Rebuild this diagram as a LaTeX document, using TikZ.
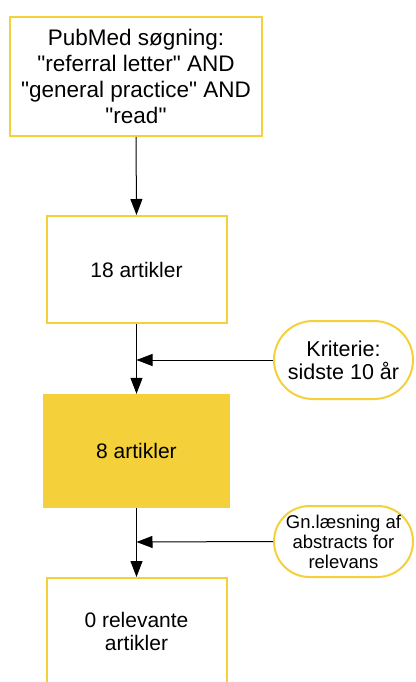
\documentclass[tikz,border=0pt]{standalone}
\usepackage{fontspec}
\setmainfont[Ligatures=TeXOff]{Liberation Sans}
\usetikzlibrary{arrows.meta}
\definecolor{ylw}{HTML}{F4D13A}
\begin{document}
\begin{tikzpicture}[x=1pt,y=-1pt,
  box/.style={draw=ylw,line width=2pt,fill=white,align=center,inner sep=0pt,
    font=\fontsize{21}{23}\selectfont},
  fbox/.style={fill=ylw,align=center,inner sep=0pt,font=\fontsize{21}{23}\selectfont},
  crit/.style={draw=ylw,line width=2pt,fill=white,align=center,inner sep=0pt,
    minimum width=139pt},
  arr/.style={line width=1pt,-{Triangle[length=16pt,width=12pt]}}]
\useasboundingbox (0,0) rectangle (415,682);
\clip (0,0) rectangle (415,682);
\node[box,minimum width=252pt,minimum height=119pt,font=\fontsize{22.5}{26}\selectfont] (b1) at (136,76.5)
  {PubMed søgning:\\"referral letter" AND\\"general practice" AND\\"read"};
\node[box,minimum width=180pt,minimum height=107pt] (b2) at (136.5,269.5) {18 artikler};
\node[fbox,minimum width=187pt,minimum height=114pt] (b3) at (136.5,451) {8 artikler};
\node[box,minimum width=180pt,minimum height=107pt] (b4) at (136.5,631.5) {0 relevante\\artikler};
\node[crit,minimum height=78pt,rounded corners=39pt,
  font=\fontsize{21.5}{23}\selectfont] (s1) at (343.5,360) {Kriterie:\\sidste 10 år};
\node[crit,minimum height=71pt,rounded corners=35.5pt,
  font=\fontsize{18.5}{20}\selectfont] (s2) at (343.5,541.5) {Gn.læsning af\\abstracts for\\relevans};
\coordinate (j1) at (136.5,360);
\coordinate (j2) at (136.5,542);
\draw[arr] (b1.south) -- (b2.north);
\draw[arr] (b2.south) -- (b3.north);
\draw[arr] (b3.south) -- (b4.north);
\draw[arr] (s1.west) -- (j1);
\draw[arr] (s2.west) -- (j2);
\end{tikzpicture}
\end{document}
